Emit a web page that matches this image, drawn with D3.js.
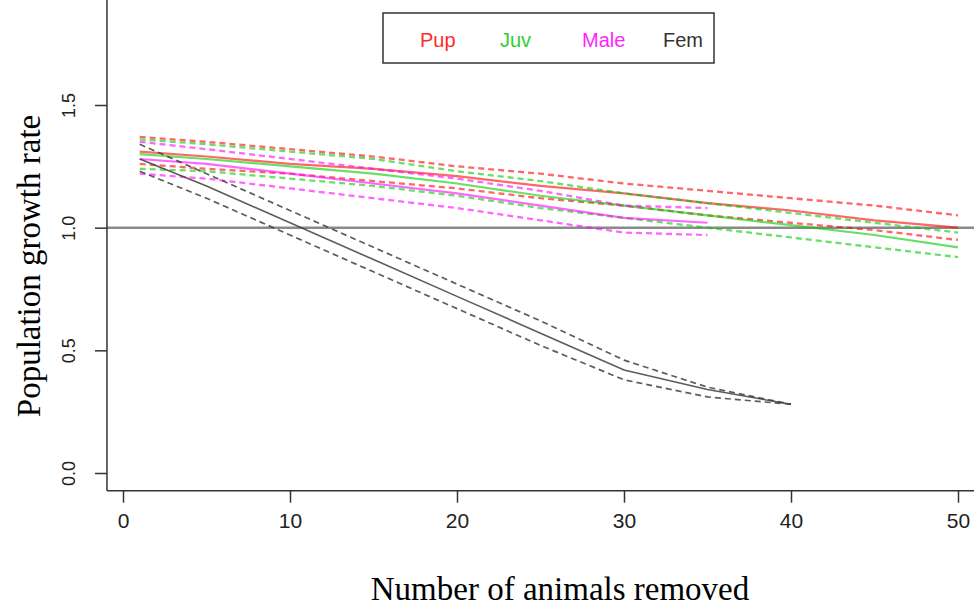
<!DOCTYPE html>
<html>
<head>
<meta charset="utf-8">
<script src="https://d3js.org/d3.v7.min.js"></script>
<style>
  body { margin: 0; background: #fff; }
  svg { display: block; }
</style>
</head>
<body>
<svg id="chart" width="974" height="606"></svg>
<script>
// values
var xTicks = [0, 10, 20, 30, 40, 50];
var yTicks = [0, 0.5, 1.0, 1.5];
var groups = ["Pup", "Juv", "Male", "Fem"];

var removedLong = [1, 5, 10, 15, 20, 25, 30, 35, 40, 45, 50];
var removedMale = [1, 5, 10, 15, 20, 25, 30, 35];
var removedFem = [1, 5, 10, 15, 20, 25, 30, 35, 40];

var pupMean  = [1.31, 1.29, 1.26, 1.24, 1.21, 1.17, 1.14, 1.10, 1.07, 1.03, 1.00];
var pupUpper = [1.37, 1.35, 1.32, 1.29, 1.25, 1.22, 1.18, 1.15, 1.12, 1.09, 1.05];
var pupLower = [1.26, 1.24, 1.22, 1.19, 1.16, 1.12, 1.09, 1.05, 1.02, 0.99, 0.95];

var juvMean  = [1.30, 1.28, 1.25, 1.22, 1.18, 1.13, 1.09, 1.05, 1.01, 0.97, 0.92];
var juvUpper = [1.36, 1.34, 1.31, 1.28, 1.23, 1.19, 1.14, 1.10, 1.06, 1.02, 0.98];
var juvLower = [1.24, 1.23, 1.20, 1.17, 1.13, 1.08, 1.04, 1.00, 0.96, 0.92, 0.88];

var maleMean  = [1.28, 1.26, 1.22, 1.18, 1.14, 1.09, 1.04, 1.02];
var maleUpper = [1.35, 1.32, 1.28, 1.24, 1.20, 1.15, 1.09, 1.08];
var maleLower = [1.22, 1.20, 1.16, 1.12, 1.08, 1.03, 0.98, 0.97];

var femMean  = [1.28, 1.17, 1.02, 0.87, 0.72, 0.57, 0.42, 0.34, 0.28];
var femUpper = [1.34, 1.22, 1.07, 0.92, 0.77, 0.62, 0.46, 0.35, 0.28];
var femLower = [1.23, 1.12, 0.97, 0.82, 0.67, 0.52, 0.38, 0.31, 0.28];

var colors = {Pup: "#ff0000", Juv: "#00cc00", Male: "#ff00ff", Fem: "#404040"};
var legendColors = {Pup: "#ff2a2a", Juv: "#33cc33", Male: "#ff22ff", Fem: "#333333"};

var svg = d3.select("#chart");

// R-style plot region: 4% padding around xlim c(1,50), ylim c(0,1.8)
var x = d3.scaleLinear().domain([0, 50]).range([123, 958]);
var y = d3.scaleLinear().domain([0, 1.5]).range([473, 105]);
var left = x(1 - 0.04 * 49), top = y(1.8 + 0.04 * 1.8), bottom = y(-0.04 * 1.8);

var series = [
  {g: "Pup", xs: removedLong, m: pupMean, u: pupUpper, l: pupLower},
  {g: "Juv", xs: removedLong, m: juvMean, u: juvUpper, l: juvLower},
  {g: "Male", xs: removedMale, m: maleMean, u: maleUpper, l: maleLower},
  {g: "Fem", xs: removedFem, m: femMean, u: femUpper, l: femLower}
];

var line = d3.line().x(function(d) { return x(d[0]); }).y(function(d) { return y(d[1]); });
function pts(xs, ys) { return xs.map(function(v, i) { return [v, ys[i]]; }); }

// reference line at 1
svg.append("line")
  .attr("x1", left).attr("x2", 974)
  .attr("y1", y(1)).attr("y2", y(1))
  .attr("stroke", "#8a8a8a").attr("stroke-width", 2.5);

var plot = svg.append("g");
series.forEach(function(s) {
  var fem = s.g === "Fem";
  var op = fem ? 0.85 : 0.6;
  [s.u, s.l].forEach(function(b) {
    plot.append("path")
      .attr("d", line(pts(s.xs, b)))
      .attr("fill", "none")
      .attr("stroke", colors[s.g])
      .attr("stroke-opacity", op)
      .attr("stroke-width", fem ? 1.7 : 2.3)
      .attr("stroke-dasharray", "6,4");
  });
  plot.append("path")
    .attr("d", line(pts(s.xs, s.m)))
    .attr("fill", "none")
    .attr("stroke", colors[s.g])
    .attr("stroke-opacity", op)
    .attr("stroke-width", fem ? 1.6 : 2.2);
});

// axes
var xAxis = svg.append("g").attr("transform", "translate(0," + bottom + ")")
  .call(d3.axisBottom(x).tickValues(xTicks).tickSize(12).tickPadding(10).tickFormat(d3.format("d")));
xAxis.select(".domain").remove();
xAxis.append("line").attr("x1", left).attr("x2", 974).attr("stroke", "#333").attr("stroke-width", 1.5);
xAxis.selectAll(".tick line").attr("stroke", "#333").attr("stroke-width", 1.5);
xAxis.selectAll(".tick text")
  .attr("fill", "#222").style("font-family", "Liberation Sans, Arial, sans-serif").style("font-size", "21px");

var yAxis = svg.append("g").attr("transform", "translate(" + left + ",0)")
  .call(d3.axisLeft(y).tickValues(yTicks).tickSize(12).tickFormat(d3.format(".1f")));
yAxis.select(".domain").remove();
yAxis.append("line").attr("y1", top).attr("y2", bottom).attr("stroke", "#333").attr("stroke-width", 1.5);
yAxis.selectAll(".tick line").attr("stroke", "#333").attr("stroke-width", 1.5);
yAxis.selectAll(".tick text")
  .attr("x", 0).attr("y", 0).attr("dy", null)
  .attr("transform", "translate(-32,0) rotate(-90)")
  .attr("text-anchor", "middle")
  .attr("fill", "#222").style("font-family", "Liberation Sans, Arial, sans-serif").style("font-size", "18px");

// axis titles
svg.append("text")
  .attr("x", 560).attr("y", 600)
  .attr("text-anchor", "middle")
  .style("font-family", "Liberation Serif, Times New Roman, serif").style("font-size", "33px")
  .text("Number of animals removed");
svg.append("text")
  .attr("transform", "translate(40,266) rotate(-90)")
  .attr("text-anchor", "middle")
  .style("font-family", "Liberation Serif, Times New Roman, serif").style("font-size", "33px")
  .text("Population growth rate");

// legend
var legend = svg.append("g");
legend.append("rect")
  .attr("x", 383).attr("y", 13).attr("width", 331).attr("height", 50)
  .attr("fill", "#fff").attr("stroke", "#333").attr("stroke-width", 1.5);
var legendStart = {Pup: 420, Juv: 500, Male: 582, Fem: 663};
legend.selectAll("text").data(groups).enter().append("text")
  .attr("x", function(d) { return legendStart[d]; })
  .attr("y", 47)
  .attr("fill", function(d) { return legendColors[d]; })
  .style("font-family", "Liberation Sans, Arial, sans-serif").style("font-size", "20px")
  .text(function(d) { return d; });
</script>
</body>
</html>
